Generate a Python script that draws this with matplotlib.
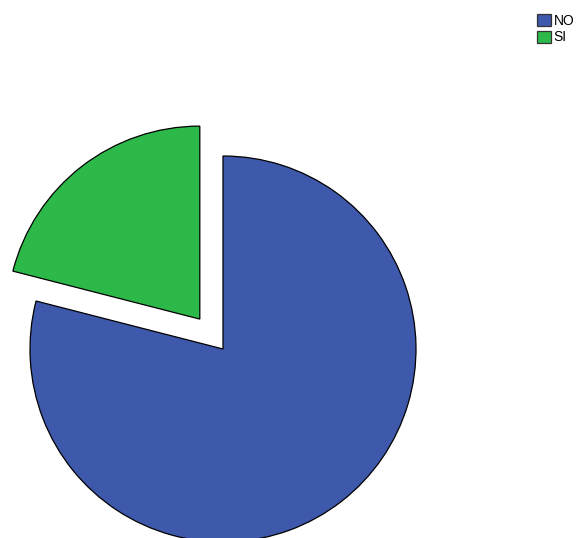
import matplotlib
matplotlib.use("Agg")
import matplotlib.pyplot as plt
from matplotlib.patches import Patch

labels = ["NO", "SI"]
values = [79, 21]
colors = ["#3e58ac", "#2db84a"]
explode_frac = [0.0, 0.196]

R = 193
fig = plt.figure(figsize=(5.78, 5.38), dpi=100)
ax = fig.add_axes([0, 0, 1, 1])
ax.pie(values, explode=[e * R for e in explode_frac], colors=colors, startangle=90,
       counterclock=False, center=(223, 538 - 349), radius=R,
       wedgeprops=dict(edgecolor="black", linewidth=0.9))
ax.set_xlim(0, 578)
ax.set_ylim(0, 538)
ax.set_aspect("auto")
ax.axis("off")

handles = [Patch(facecolor=c, edgecolor="#333333", linewidth=0.9) for c in colors]
leg = fig.legend(handles, labels, loc="upper left", bbox_to_anchor=(527 / 578, 1 - 4 / 538),
                 frameon=False, handlelength=1.0, handleheight=1.0,
                 handletextpad=0.2, labelspacing=0.2, borderpad=0.2,
                 prop={"family": "Liberation Sans", "size": 10})
fig.savefig("out.png", dpi=100)
